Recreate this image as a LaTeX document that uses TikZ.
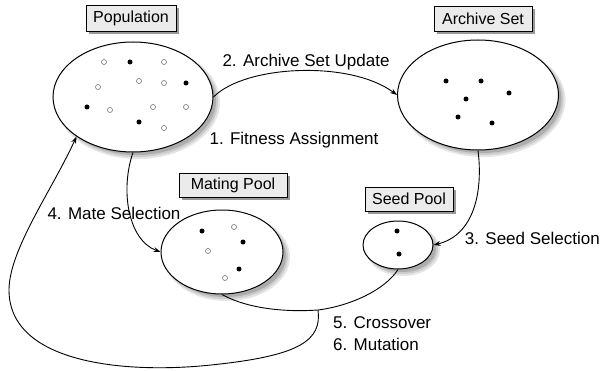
\documentclass[tikz,border=0pt]{standalone}
\usepackage{fontspec}
\setmainfont{Liberation Sans}
\usetikzlibrary{arrows.meta,shapes.geometric}
\newcommand\softshadow[4]{%
  \fill[black!10] (#1+5,#2+5) ellipse [x radius=#3+2,y radius=#4+2];
  \fill[black!20] (#1+4.5,#2+4.5) ellipse [x radius=#3+0.5,y radius=#4+0.5];
  \fill[black!32] (#1+4,#2+4) ellipse [x radius=#3-1,y radius=#4-1];}
\begin{document}
\begin{tikzpicture}[x=1pt,y=-1pt,
  pool/.style={ellipse,draw,line width=1pt,fill=white,inner sep=0pt},
  tag/.style={rectangle,draw,line width=0.9pt,fill=black!8,inner sep=0pt,
    font=\fontsize{16}{18}\selectfont},
  tagshadow/.style={fill=black!40},
  lbl/.style={inner sep=0pt,font=\fontsize{17}{19}\selectfont},
  conn/.style={line width=0.9pt},
  arr/.style={conn,-{Stealth[length=7pt,width=5pt]}},
  fdot/.style={circle,fill=black,inner sep=0pt,minimum size=5pt},
  odot/.style={circle,draw=black!55,line width=0.6pt,fill=white,inner sep=0pt,minimum size=5pt}]
\useasboundingbox (0,0) rectangle (601,371);

% shadows
\softshadow{133}{97}{80}{55}
\softshadow{478}{95}{80.5}{55}
\softshadow{222}{252}{61}{42}
\softshadow{398}{245}{35}{24}
\fill[tagshadow] (89,8) rectangle (179,34);
\fill[tagshadow] (437,9) rectangle (535,34);
\fill[tagshadow] (182,176) rectangle (290,200);
\fill[tagshadow] (368,190) rectangle (456,214);

% pools
\node[pool,minimum width=160pt,minimum height=110pt] (pop) at (133,97) {};
\node[pool,minimum width=161pt,minimum height=110pt] (arch) at (478,95) {};
\node[pool,minimum width=122pt,minimum height=84pt] (mate) at (222,252) {};
\node[pool,minimum width=70pt,minimum height=48pt] (seed) at (398,245) {};

% tags
\node[tag,minimum width=90pt,minimum height=26pt] (tpop) at (131,18) {Population};
\node[tag,minimum width=98pt,minimum height=25pt] (tarch) at (483,18.5) {Archive Set};
\node[tag,minimum width=108pt,minimum height=24pt] (tmate) at (233,185) {Mating Pool};
\node[tag,minimum width=88pt,minimum height=24pt] (tseed) at (409,199) {Seed Pool};

% population individuals
\node[odot] (p1) at (104,62) {};
\node[fdot] (p2) at (130,62) {};
\node[odot] (p3) at (164,62) {};
\node[odot] (p4) at (98,87) {};
\node[odot] (p5) at (139,81) {};
\node[odot] (p6) at (164,83) {};
\node[fdot] (p7) at (186,83) {};
\node[fdot] (p8) at (87,107) {};
\node[odot] (p9) at (110,110) {};
\node[odot] (p10) at (153,107) {};
\node[odot] (p11) at (186,107) {};
\node[fdot] (p12) at (139,122) {};
\node[odot] (p13) at (164,128) {};

% archive individuals
\node[fdot] (a1) at (446,81) {};
\node[fdot] (a2) at (481,81) {};
\node[fdot] (a3) at (509,93) {};
\node[fdot] (a4) at (466,99) {};
\node[fdot] (a5) at (458,117) {};
\node[fdot] (a6) at (492,123) {};

% mating pool individuals
\node[fdot] (m1) at (202,231) {};
\node[odot] (m2) at (234,227) {};
\node[fdot] (m3) at (243,242) {};
\node[odot] (m4) at (208,251) {};
\node[fdot] (m5) at (239,269) {};
\node[odot] (m6) at (225,278) {};

% seed pool individuals
\node[fdot] (s1) at (397,231) {};
\node[fdot] (s2) at (399,254) {};

% labels
\node[lbl] (l2) at (306,62) {2. Archive Set Update};
\node[lbl] (l1) at (294,140) {1. Fitness Assignment};
\node[lbl] (l4) at (114,213) {4. Mate Selection};
\node[lbl,anchor=east] (l3) at (600,238) {3. Seed Selection};
\node[lbl,anchor=west] (l5) at (333,323) {5. Crossover};
\node[lbl,anchor=west] (l6) at (333,344) {6. Mutation};

% connectors
\coordinate (branch) at (318,310);
\draw[arr] (pop.east) .. controls (245,65) and (350,60) .. (arch.west);
\draw[arr] (pop.south) .. controls (120,190) and (128,240) .. (mate.west);
\draw[arr] (arch.south) .. controls (483,190) and (475,235) .. (seed.east);
\draw[conn] (mate.south) .. controls (250,310) and (290,312) .. (branch)
  .. controls (350,306) and (385,290) .. (seed.south);
\draw[arr] (branch) .. controls (322,340) and (300,355) .. (220,364)
  .. controls (130,375) and (9,365) .. (9,290)
  .. controls (9,250) and (52,190) .. (pop.215);
\end{tikzpicture}
\end{document}
